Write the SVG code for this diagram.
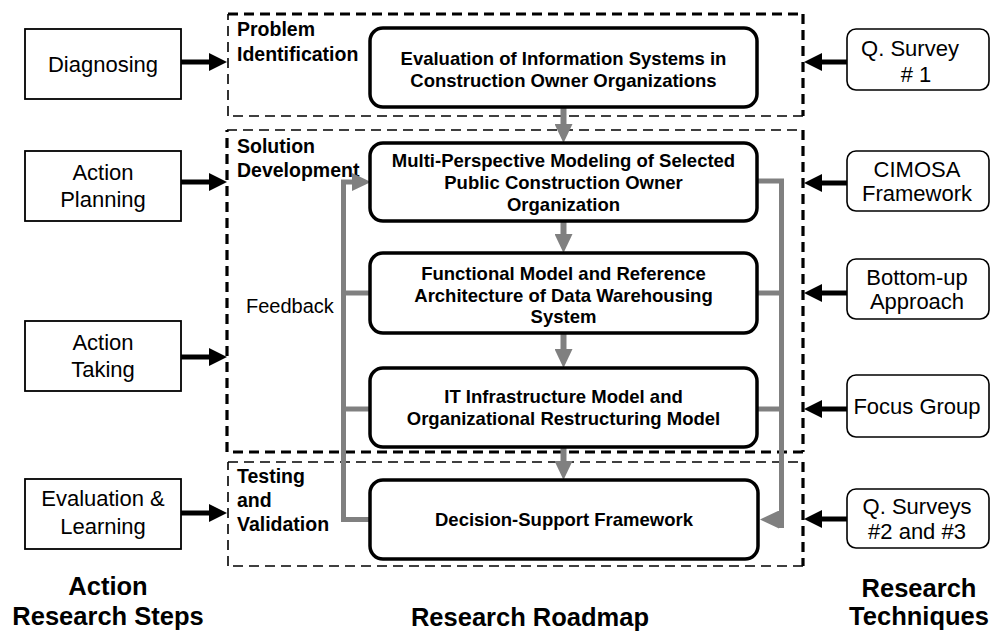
<svg xmlns="http://www.w3.org/2000/svg" width="992" height="633" viewBox="0 0 992 633">
  <style>
    text { font-family: "Liberation Sans", Arial, Helvetica, sans-serif; fill: #000; }
    .reg { font-size: 22px; text-anchor: middle; }
    .box { font-size: 18.5px; font-weight: bold; text-anchor: middle; }
    .phase { font-size: 19.5px; font-weight: bold; }
    .title { font-size: 25.5px; font-weight: bold; text-anchor: middle; }
    .fb { font-size: 20px; }
    .stage rect { fill: #fff; stroke: #000; stroke-width: 1.8; }
    .tech rect { fill: #fff; stroke: #000; stroke-width: 1.6; }
    .step rect { fill: #fff; stroke: #000; stroke-width: 3.5; }
    .dash line { stroke: #000; stroke-dasharray: 10 6; fill: none; }
    .thick { stroke-width: 3.2; }
    .thin { stroke-width: 1.6; }
    .blk { stroke: #000; stroke-width: 5; fill: none; marker-end: url(#headBlack); }
    .gry { stroke: #808080; stroke-width: 6; fill: none; marker-end: url(#headGrey); }
    .fbline { stroke: #808080; stroke-width: 5; fill: none; }
  </style>
  <defs>
    <marker id="headBlack" markerUnits="userSpaceOnUse" viewBox="0 -9 18 18" refX="0" refY="0" markerWidth="18" markerHeight="18" orient="auto">
      <path d="M0,-9 L18,0 L0,9 Z" fill="#000"/>
    </marker>
    <marker id="headGrey" markerUnits="userSpaceOnUse" viewBox="0 -9 19 18" refX="0" refY="0" markerWidth="19" markerHeight="18" orient="auto">
      <path d="M0,-9 L19,0 L0,9 Z" fill="#808080"/>
    </marker>
  </defs>

  <rect width="992" height="633" fill="#fff"/>

  <!-- phase frames (dashed) -->
  <g id="phase-problem" class="dash">
    <line class="thick" x1="228" y1="14" x2="803" y2="14"/>
    <line class="thick" x1="803" y1="14" x2="803" y2="116"/>
    <line class="thin" x1="803" y1="116" x2="228" y2="116"/>
    <line class="thin" x1="228" y1="116" x2="228" y2="14"/>
    <text class="phase" x="237" y="36">Problem</text>
    <text class="phase" x="237" y="61">Identification</text>
  </g>
  <g id="phase-solution" class="dash">
    <line class="thin" x1="227" y1="130" x2="803" y2="130"/>
    <line class="thick" x1="803" y1="130" x2="803" y2="452"/>
    <line class="thick" x1="803" y1="452" x2="227" y2="452"/>
    <line class="thick" x1="227" y1="452" x2="227" y2="130"/>
    <text class="phase" x="237" y="153">Solution</text>
    <text class="phase" x="237" y="177">Development</text>
  </g>
  <g id="phase-testing" class="dash">
    <line class="thin" x1="228" y1="462" x2="803" y2="462"/>
    <line class="thick" x1="803" y1="462" x2="803" y2="566"/>
    <line class="thin" x1="803" y1="566" x2="228" y2="566"/>
    <line class="thin" x1="228" y1="566" x2="228" y2="462"/>
    <text class="phase" x="237" y="483">Testing</text>
    <text class="phase" x="237" y="507">and</text>
    <text class="phase" x="237" y="531">Validation</text>
  </g>

  <!-- connectors -->
  <g id="connectors">
    <!-- action research steps into phases -->
    <path class="blk" d="M181,62 H209"/>
    <path class="blk" d="M181,182 H209"/>
    <path class="blk" d="M181,357 H209"/>
    <path class="blk" d="M181,513 H209"/>
    <!-- research techniques into phases -->
    <path class="blk" d="M847,62 H822"/>
    <path class="blk" d="M847,183 H822"/>
    <path class="blk" d="M847,293 H822"/>
    <path class="blk" d="M847,409 H822"/>
    <path class="blk" d="M847,519 H822"/>
    <!-- roadmap sequence -->
    <path class="gry" d="M563.5,107 V124"/>
    <path class="gry" d="M563.5,221 V234"/>
    <path class="gry" d="M563.5,333 V349"/>
    <path class="gry" d="M563.5,447 V461"/>
    <!-- feedback loop (left) -->
    <path class="fbline" d="M370,519.5 H343.5 V182 H352" stroke-linejoin="miter" marker-end="url(#headGrey)"/>
    <path class="fbline" d="M370,293 H343.5"/>
    <path class="fbline" d="M370,409 H343.5"/>
    <!-- forward loop (right) -->
    <path class="fbline" d="M757,181 H781.5 V528"/>
    <path class="fbline" d="M781.5,519.5 H779" marker-end="url(#headGrey)"/>
    <path class="fbline" d="M757,293 H781.5"/>
    <path class="fbline" d="M757,409 H781.5"/>
  </g>

  <!-- action research steps -->
  <g id="diagnosing" class="stage">
    <rect x="25" y="29" width="156" height="70"/>
    <text class="reg" x="103" y="72">Diagnosing</text>
  </g>
  <g id="action-planning" class="stage">
    <rect x="25" y="151" width="156" height="70"/>
    <text class="reg" x="103" y="180">Action</text>
    <text class="reg" x="103" y="207">Planning</text>
  </g>
  <g id="action-taking" class="stage">
    <rect x="25" y="321" width="156" height="70"/>
    <text class="reg" x="103" y="350">Action</text>
    <text class="reg" x="103" y="377">Taking</text>
  </g>
  <g id="evaluation-learning" class="stage">
    <rect x="25" y="479" width="156" height="70"/>
    <text class="reg" x="103" y="506">Evaluation &amp;</text>
    <text class="reg" x="103" y="534">Learning</text>
  </g>

  <!-- research roadmap -->
  <g id="evaluation-is" class="step">
    <rect x="370" y="28" width="387" height="79" rx="13"/>
    <text class="box" x="563.5" y="65">Evaluation of Information Systems in</text>
    <text class="box" x="563.5" y="87">Construction Owner Organizations</text>
  </g>
  <g id="multi-perspective" class="step">
    <rect x="370" y="143" width="387" height="78" rx="13"/>
    <text class="box" x="563.5" y="167">Multi-Perspective Modeling of Selected</text>
    <text class="box" x="563.5" y="189">Public Construction Owner</text>
    <text class="box" x="563.5" y="211">Organization</text>
  </g>
  <g id="functional-model" class="step">
    <rect x="370" y="253" width="387" height="80" rx="13"/>
    <text class="box" x="563.5" y="280">Functional Model and Reference</text>
    <text class="box" x="563.5" y="302">Architecture of Data Warehousing</text>
    <text class="box" x="563.5" y="323">System</text>
  </g>
  <g id="it-infrastructure" class="step">
    <rect x="370" y="368" width="387" height="79" rx="13"/>
    <text class="box" x="563.5" y="403">IT Infrastructure Model and</text>
    <text class="box" x="563.5" y="425">Organizational Restructuring Model</text>
  </g>
  <g id="decision-support" class="step">
    <rect x="370" y="480" width="388" height="79" rx="13"/>
    <text class="box" x="564" y="526">Decision-Support Framework</text>
  </g>
  <g id="feedback-label">
    <text class="fb" x="246" y="313">Feedback</text>
  </g>

  <!-- research techniques -->
  <g id="q-survey-1" class="tech">
    <rect x="847" y="29" width="142" height="61" rx="9"/>
    <text class="reg" x="910" y="56">Q. Survey</text>
    <text class="reg" x="916" y="82"># 1</text>
  </g>
  <g id="cimosa" class="tech">
    <rect x="847" y="151" width="142" height="60" rx="9"/>
    <text class="reg" x="917" y="177">CIMOSA</text>
    <text class="reg" x="917" y="201">Framework</text>
  </g>
  <g id="bottom-up" class="tech">
    <rect x="847" y="259" width="142" height="60" rx="9"/>
    <text class="reg" x="917" y="285">Bottom-up</text>
    <text class="reg" x="917" y="309">Approach</text>
  </g>
  <g id="focus-group" class="tech">
    <rect x="847" y="375" width="142" height="62" rx="9"/>
    <text class="reg" x="917" y="414">Focus Group</text>
  </g>
  <g id="q-surveys-2-3" class="tech">
    <rect x="847" y="489" width="142" height="59" rx="9"/>
    <text class="reg" x="917" y="514">Q. Surveys</text>
    <text class="reg" x="917" y="539">#2 and #3</text>
  </g>

  <!-- column titles -->
  <g id="titles">
    <text class="title" x="108" y="595">Action</text>
    <text class="title" x="108" y="625">Research Steps</text>
    <text class="title" x="530" y="626">Research Roadmap</text>
    <text class="title" x="919" y="597">Research</text>
    <text class="title" x="919" y="625">Techniques</text>
  </g>
</svg>
